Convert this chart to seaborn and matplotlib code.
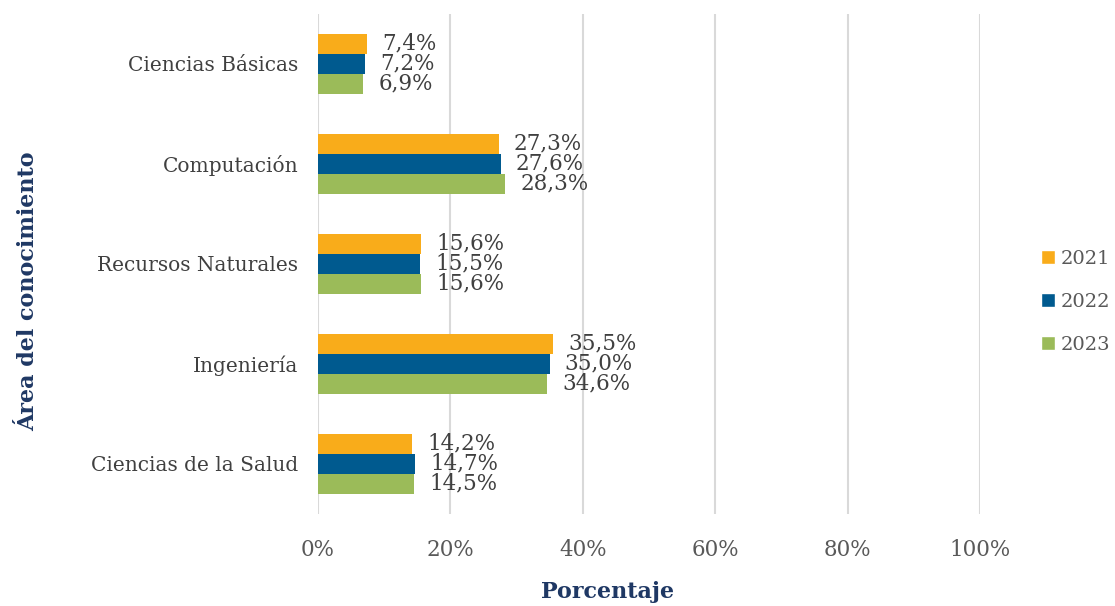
import matplotlib
matplotlib.use("Agg")
import matplotlib.pyplot as plt
import matplotlib.ticker as mtick
from matplotlib.patches import Patch
import seaborn as sns
import pandas as pd

# Data
areas = ["Ciencias Básicas", "Computación", "Recursos Naturales", "Ingeniería", "Ciencias de la Salud"]
years = ["2021", "2022", "2023"]
v2021 = [7.4, 27.3, 15.6, 35.5, 14.2]
v2022 = [7.2, 27.6, 15.5, 35.0, 14.7]
v2023 = [6.9, 28.3, 15.6, 34.6, 14.5]
colors = ["#F9AC1A", "#005A8F", "#9BBB59"]

rows = []
for year, vals in zip(years, [v2021, v2022, v2023]):
    for area, v in zip(areas, vals):
        rows.append({"area": area, "year": year, "value": v / 100})
df = pd.DataFrame(rows)

sns.set_theme(style="white")
plt.rcParams["font.family"] = ["DejaVu Serif"]

fig = plt.figure(figsize=(11.15, 6.06), dpi=100)
ax = fig.add_axes([0.285, 0.152, 0.594, 0.825])

sns.barplot(data=df, x="value", y="area", hue="year", order=areas, hue_order=years,
            palette=colors, orient="h", width=0.6, saturation=1, legend=False,
            errorbar=None, linewidth=0, ax=ax)

for cont, vals in zip(ax.containers, [v2021, v2022, v2023]):
    ax.bar_label(cont, labels=[f"{v:.1f}%".replace(".", ",") for v in vals],
                 padding=11, fontsize=15.5, color="#404040")

ax.set_xlim(0, 1.0)
ax.set_ylim(4.5, -0.5)
ax.set_xticks([0, 0.2, 0.4, 0.6, 0.8, 1.0])
ax.xaxis.set_major_formatter(mtick.PercentFormatter(1.0, decimals=0))
ax.grid(axis="x", color="#D9D9D9", linewidth=1.5)
ax.set_axisbelow(True)
for s in ax.spines.values():
    s.set_visible(False)
ax.tick_params(axis="x", labelsize=15.5, labelcolor="#595959", pad=18, length=0)
ax.tick_params(axis="y", labelsize=14.5, labelcolor="#404040", pad=14, length=0)
ax.set_xlabel("")
ax.set_ylabel("")

fig.text(0.545, 0.023, "Porcentaje", fontsize=16, fontweight="bold", color="#1F3864",
         ha="center", va="center")
fig.text(0.025, 0.52, "Área del conocimiento", fontsize=16, fontweight="bold", color="#1F3864",
         rotation=90, ha="center", va="center")

handles = [Patch(facecolor=c, label=y) for c, y in zip(colors, years)]
leg = fig.legend(handles=handles, loc="center left", bbox_to_anchor=(0.934, 0.502),
                 frameon=False, fontsize=14, handlelength=0.7, handleheight=0.7,
                 handletextpad=0.3, labelspacing=1.3, borderpad=0, borderaxespad=0)
for t in leg.get_texts():
    t.set_color("#595959")

fig.savefig("out.png", dpi=100)
